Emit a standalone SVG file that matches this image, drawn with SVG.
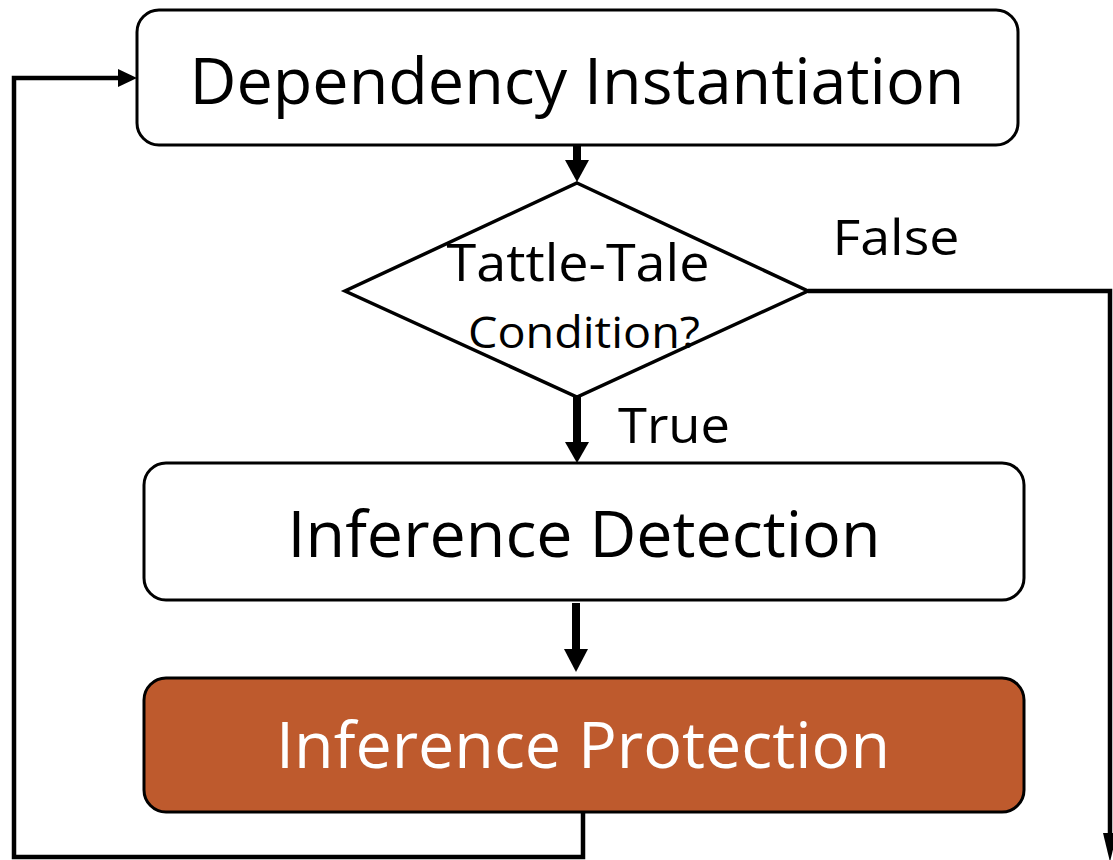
<svg xmlns="http://www.w3.org/2000/svg" width="1113" height="860" viewBox="0 0 1113 860">
<style>
.box{fill:#fff;stroke:#000;stroke-width:3}
.t{font-family:"Open Sans","Noto Sans",sans-serif;fill:#000;text-anchor:middle}
.wire{fill:none;stroke:#000;stroke-width:4.5}
.thick{fill:none;stroke:#000;stroke-width:8}
</style>
<g id="connectors">
<line class="thick" x1="577" y1="146" x2="577" y2="162"/>
<path d="M565,160 L589,160 L577,182 Z" fill="#000"/>
<line class="thick" x1="577" y1="397" x2="577" y2="444"/>
<path d="M565,442 L589,442 L577,463 Z" fill="#000"/>
<line class="thick" x1="576" y1="603" x2="576" y2="651"/>
<path d="M564,649 L588,649 L576,672 Z" fill="#000"/>
<path class="wire" d="M808,291 H1110 V840"/>
<path d="M1103,833 L1117,833 L1110,862 Z" fill="#000"/>
<path class="wire" d="M583,812 V857 H14 V78 H120"/>
<path d="M118,69 L137,78 L118,87 Z" fill="#000"/>
<text class="t" x="896" y="255" font-size="50" textLength="127" lengthAdjust="spacingAndGlyphs">False</text>
<text class="t" x="674" y="443" font-size="50" textLength="112" lengthAdjust="spacingAndGlyphs">True</text>
</g>
<g id="n-dependency">
<rect class="box" x="137" y="10" width="881" height="135" rx="22"/>
<text class="t" x="577" y="104" font-size="64" textLength="775" lengthAdjust="spacingAndGlyphs">Dependency Instantiation</text>
</g>
<g id="n-condition">
<path class="box" d="M577,183 L808,291 L577,397 L345,291 Z" style="stroke-width:3.5"/>
<text class="t" x="578" y="281" font-size="52" textLength="263" lengthAdjust="spacingAndGlyphs">Tattle-Tale</text>
<text class="t" x="584" y="348" font-size="43" textLength="232" lengthAdjust="spacingAndGlyphs">Condition?</text>
</g>
<g id="n-detection">
<rect class="box" x="144" y="463" width="880" height="137" rx="22"/>
<text class="t" x="584" y="557" font-size="64" textLength="593" lengthAdjust="spacingAndGlyphs">Inference Detection</text>
</g>
<g id="n-protection">
<rect x="144" y="678" width="880" height="134" rx="22" fill="#BE5A2D" stroke="#000" stroke-width="3"/>
<text class="t" x="583" y="768" font-size="64" textLength="614" lengthAdjust="spacingAndGlyphs" style="fill:#fff">Inference Protection</text>
</g>
</svg>
